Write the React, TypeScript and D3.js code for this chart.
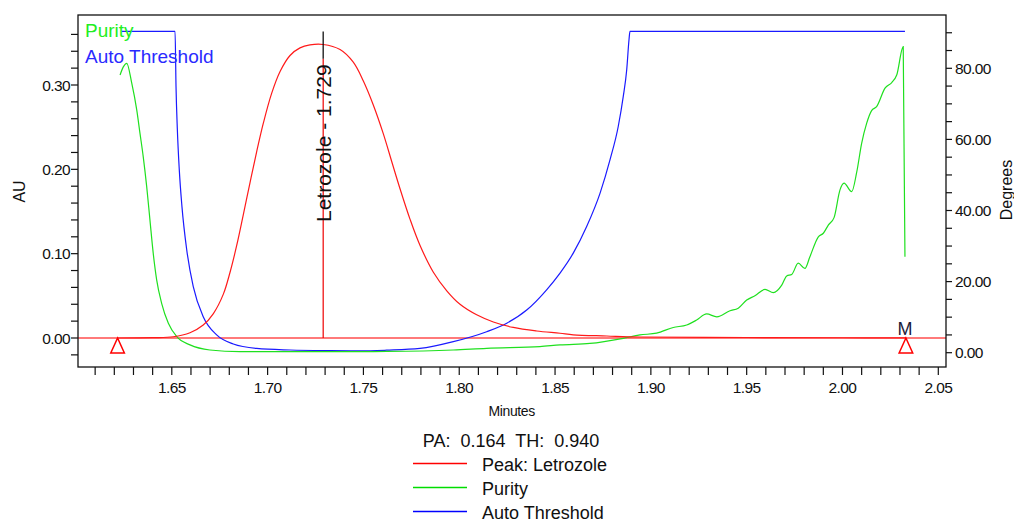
import React from "react";
import * as d3 from "d3";

// Retention times (minutes) and absorbance (AU) of the Letrozole peak
const peakTimes = [
  1.6217, 1.64, 1.6508, 1.6595, 1.6664, 1.6717, 1.6769, 1.6804, 1.6839, 1.6873,
  1.6908, 1.6943, 1.6978, 1.7021, 1.7065, 1.7117, 1.7169, 1.7221, 1.729, 1.7378,
  1.7447, 1.7499, 1.7552, 1.7604, 1.7648, 1.7691, 1.7743, 1.7795, 1.7865, 1.7935,
  1.8004, 1.8091, 1.8178, 1.8282, 1.8404, 1.8526, 1.8595, 1.877, 1.8943, 1.95,
  2.0, 2.0331,
];
const peakAU = [
  0.0, 0.0004, 0.0015, 0.0063, 0.0154, 0.029, 0.052, 0.078, 0.11, 0.146,
  0.184, 0.221, 0.255, 0.29, 0.316, 0.335, 0.344, 0.3475, 0.348, 0.342,
  0.327, 0.305, 0.276, 0.242, 0.209, 0.177, 0.141, 0.11, 0.078, 0.056,
  0.04, 0.0275, 0.019, 0.0125, 0.0083, 0.0056, 0.0038, 0.0024, 0.0012, 0.0006,
  0.0003, 0.0002,
];

// Purity angle (degrees)
const purityTimes = [
  1.623, 1.6247, 1.6265, 1.6291, 1.6317, 1.6334, 1.6351, 1.6369, 1.6386, 1.6403,
  1.6421, 1.6447, 1.6482, 1.6526, 1.6595, 1.6699, 1.6856, 1.7326, 1.7621, 1.7969,
  1.8143, 1.8421, 1.8526, 1.8682, 1.8856, 1.8943, 1.903, 1.9117, 1.9187, 1.9239,
  1.9291, 1.9344, 1.9413, 1.9456, 1.95, 1.9543, 1.9596, 1.9639, 1.9683, 1.9709,
  1.9735, 1.9769, 1.9804, 1.983, 1.9874, 1.99, 1.9926, 1.9956, 1.9987, 2.0008,
  2.0048, 2.0074, 2.01, 2.0126, 2.0152, 2.0178, 2.0222, 2.0257, 2.0283, 2.0317,
  2.0326,
];
const purityDeg = [
  78.1, 80.4, 81.4, 75.8, 68.3, 61.7, 55.1, 46.7, 37.3, 28.0,
  20.5, 13.9, 8.3, 4.5, 2.2, 0.76, 0.28, 0.28, 0.35, 0.76,
  1.24, 1.7, 2.2, 2.6, 4.05, 5.0, 5.5, 7.1, 7.8, 9.2,
  10.9, 10.1, 11.8, 12.5, 14.8, 16.0, 17.8, 16.9, 19.0, 21.6,
  22.0, 25.2, 23.7, 27.0, 32.6, 33.6, 35.9, 38.0, 45.8, 47.7,
  45.3, 50.7, 58.9, 64.5, 68.1, 69.2, 74.4, 76.0, 78.1, 86.1,
  27.0,
];

// Auto threshold angle (degrees)
const thresholdTimes = [
  1.6239, 1.6517, 1.6522, 1.6529, 1.6539, 1.6553, 1.6578, 1.6612, 1.6664, 1.6734,
  1.6821, 1.6943, 1.7117, 1.7326, 1.7482, 1.7621, 1.7795, 1.7969, 1.8143, 1.8248,
  1.8352, 1.8456, 1.8526, 1.8595, 1.8665, 1.8735, 1.8787, 1.883, 1.8856, 1.8874,
  1.8886, 1.8891, 2.0326,
];
const thresholdDeg = [
  90.4, 90.4, 74.9, 62.7, 51.5, 41.1, 28.9, 18.6, 10.1, 5.0,
  2.45, 1.2, 0.76, 0.56, 0.5, 0.7, 1.2, 3.1, 5.9, 8.3,
  12.0, 17.7, 22.4, 28.0, 35.5, 44.9, 54.3, 63.7, 72.1, 79.6,
  88.1, 90.4, 90.4,
];

// Integration start / end marks and the peak apex
const markerTimes = [1.6217, 2.0331];
const peakName = "Letrozole";
const peakTime = 1.729;
const peakApexAU = 0.348;

// Axis labels
const timeTickLabels = ["1.65", "1.70", "1.75", "1.80", "1.85", "1.90", "1.95", "2.00", "2.05"];
const auTickLabels = ["0.00", "0.10", "0.20", "0.30"];
const degTickLabels = ["0.00", "20.00", "40.00", "60.00", "80.00"];

const legendItems = ["Peak: Letrozole", "Purity", "Auto Threshold"];
const legendColors = ["#ff0000", "#00dd00", "#0000ff"];
const summaryText = "PA:  0.164  TH:  0.940";

const FONT = "'Liberation Sans', Arial, Helvetica, sans-serif";
const INK = "#101010";

export default function App() {
  const W = 1014;
  const H = 523;
  const frame = { left: 78, right: 946, top: 15, bottom: 367 };

  const x = d3.scaleLinear().domain([1.65, 2.05]).range([171.8, 938.3]);
  const yAU = d3.scaleLinear().domain([0, 0.3]).range([338, 85]);
  const yDeg = d3.scaleLinear().domain([0, 80]).range([352.7, 68.3]);

  const lineAU = d3
    .line<[number, number]>()
    .x((d) => x(d[0]))
    .y((d) => yAU(d[1]))
    .curve(d3.curveCatmullRom.alpha(0.5));
  const lineDeg = d3
    .line<[number, number]>()
    .x((d) => x(d[0]))
    .y((d) => yDeg(d[1]))
    .curve(d3.curveMonotoneX);

  const peakData = peakTimes.map((t, i) => [t, peakAU[i]] as [number, number]);
  const purityData = purityTimes.map((t, i) => [t, purityDeg[i]] as [number, number]);
  const thresholdData = thresholdTimes.map((t, i) => [t, thresholdDeg[i]] as [number, number]);

  const timeMinor = d3.range(161, 206).map((i) => i / 100);
  const auMinor = d3.range(-1, 19).map((i) => i * 0.02);
  const degMinor = d3.range(0, 95, 5);

  const tickFont = { fontFamily: FONT, fontSize: 15.5, letterSpacing: -0.6, fill: INK };

  const px = x(peakTime);
  const tri = (t: number) => {
    const cx = x(t);
    const y0 = yAU(0);
    return `M${cx},${y0} L${cx + 6.8},${y0 + 15} L${cx - 6.8},${y0 + 15} Z`;
  };

  return (
    <svg
      width={W}
      height={H}
      style={{ position: "absolute", left: 0, top: 0, background: "#fff" }}
    >
      <defs>
        <clipPath id="plotClip">
          <rect
            x={frame.left}
            y={frame.top}
            width={frame.right - frame.left}
            height={frame.bottom - frame.top}
          />
        </clipPath>
      </defs>

      <rect x={0} y={0} width={W} height={H} fill="#fff" />

      {/* baseline */}
      <line
        x1={frame.left}
        x2={frame.right}
        y1={yAU(0)}
        y2={yAU(0)}
        stroke="#ff7a7a"
        strokeWidth={1.8}
      />

      <g clipPath="url(#plotClip)" fill="none">
        <path d={lineDeg(thresholdData) || ""} stroke="#1a1aff" strokeWidth={1.2} />
        <path d={lineDeg(purityData) || ""} stroke="#1fe01f" strokeWidth={1.2} />
        <path d={lineAU(peakData) || ""} stroke="#ff1a1a" strokeWidth={1.2} />
      </g>

      {/* peak apex marker */}
      <line x1={px} x2={px} y1={yAU(peakApexAU - 0.017)} y2={yAU(0)} stroke="#ee0000" strokeWidth={1.2} />
      <line
        x1={px}
        x2={px}
        y1={yAU(peakApexAU + 0.0155)}
        y2={yAU(peakApexAU - 0.017)}
        stroke="#111"
        strokeWidth={1.3}
      />
      <text
        transform={`translate(${px + 7.5},222) rotate(-90)`}
        fontFamily={FONT}
        fontSize={21}
        fill={INK}
      >
        {`${peakName} - ${peakTime.toFixed(3)}`}
      </text>

      {/* integration marks */}
      {markerTimes.map((t) => (
        <path key={t} d={tri(t)} fill="none" stroke="#ff0000" strokeWidth={1.5} />
      ))}
      <text
        x={x(markerTimes[1]) - 1}
        y={335}
        textAnchor="middle"
        fontFamily={FONT}
        fontSize={18}
        fill="#1c1c3a"
      >
        M
      </text>

      {/* frame */}
      <rect
        x={frame.left}
        y={frame.top}
        width={frame.right - frame.left}
        height={frame.bottom - frame.top}
        fill="none"
        stroke="#111"
        strokeWidth={1.3}
      />

      {/* bottom axis */}
      {timeMinor.map((t) => (
        <line key={t} x1={x(t)} x2={x(t)} y1={frame.bottom} y2={frame.bottom + 8} stroke="#111" strokeWidth={1.2} />
      ))}
      {timeTickLabels.map((s) => (
        <text key={s} x={x(+s)} y={393} textAnchor="middle" {...tickFont}>
          {s}
        </text>
      ))}
      <text x={511.7} y={416} textAnchor="middle" fontFamily={FONT} fontSize={14} letterSpacing={-0.4} fill={INK}>
        Minutes
      </text>

      {/* left axis */}
      {auMinor.map((v) => (
        <line key={v} x1={frame.left - 7} x2={frame.left} y1={yAU(v)} y2={yAU(v)} stroke="#111" strokeWidth={1.2} />
      ))}
      {auTickLabels.map((s) => (
        <text key={s} x={70} y={yAU(+s) + 5.5} textAnchor="end" {...tickFont}>
          {s}
        </text>
      ))}
      <text transform="translate(25,191.5) rotate(-90)" textAnchor="middle" fontFamily={FONT} fontSize={16} fill={INK}>
        AU
      </text>

      {/* right axis */}
      {degMinor.map((v) => (
        <line key={v} x1={frame.right} x2={frame.right + 6} y1={yDeg(v)} y2={yDeg(v)} stroke="#111" strokeWidth={1.2} />
      ))}
      {degTickLabels.map((s) => (
        <text key={s} x={955} y={yDeg(+s) + 5.5} textAnchor="start" {...tickFont}>
          {s}
        </text>
      ))}
      <text transform="translate(1011.5,190) rotate(-90)" textAnchor="middle" fontFamily={FONT} fontSize={16} fill={INK}>
        Degrees
      </text>

      {/* inline legend */}
      <text x={85} y={37} fontFamily={FONT} fontSize={19} fill="#22ee22">
        Purity
      </text>
      <text x={85} y={62.5} fontFamily={FONT} fontSize={19} fill="#2a2aff">
        Auto Threshold
      </text>

      {/* summary and legend */}
      <text
        x={511}
        y={447}
        textAnchor="middle"
        fontFamily={FONT}
        fontSize={18}
        fill={INK}
        style={{ whiteSpace: "pre" }}
      >
        {summaryText}
      </text>
      {legendItems.map((s, i) => {
        const by = 470.5 + i * 24;
        return (
          <g key={s}>
            <line x1={413} x2={467} y1={by - 7} y2={by - 7} stroke={legendColors[i]} strokeWidth={1.5} />
            <text x={482} y={by} fontFamily={FONT} fontSize={18} fill={INK}>
              {s}
            </text>
          </g>
        );
      })}
    </svg>
  );
}
